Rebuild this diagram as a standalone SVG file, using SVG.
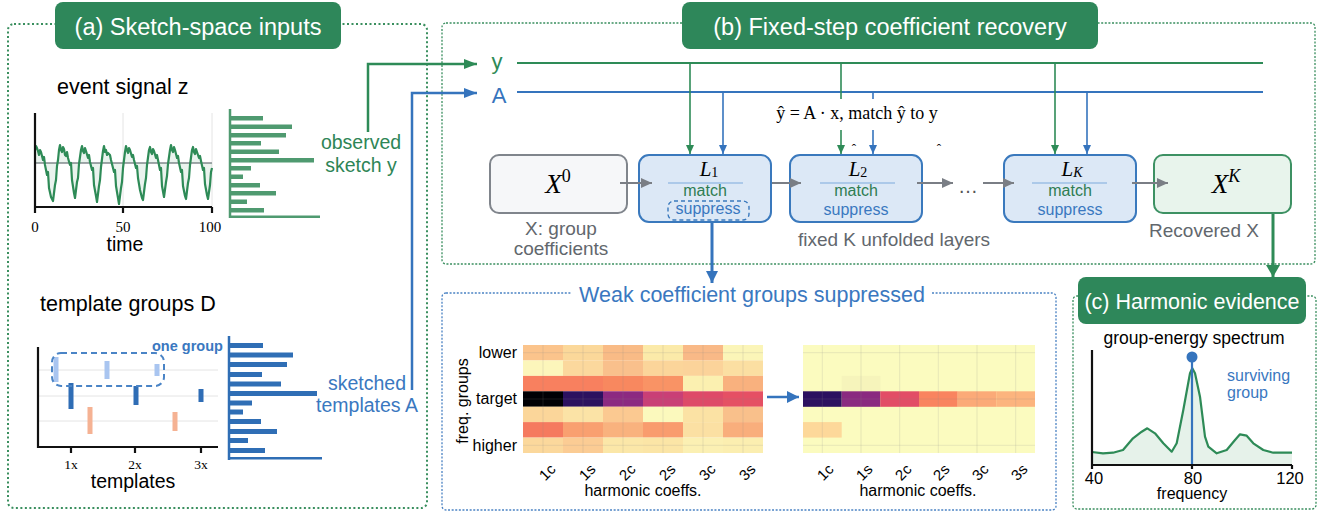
<svg xmlns="http://www.w3.org/2000/svg" width="1319" height="514" viewBox="0 0 1319 514">
<style>
  text{font-family:"Liberation Sans",Arial,"DejaVu Sans",sans-serif;}
  .serif{font-family:"Liberation Serif","Times New Roman",serif;}
  .pill{fill:#2e875a;}
  .pilltxt{fill:#fff;text-anchor:middle;}
  .frameA{fill:none;stroke:#3a8f5f;stroke-width:2;stroke-dasharray:2 2.5;}
  .frameG{fill:none;stroke:#3a8f5f;stroke-width:1.3;stroke-dasharray:2 1.6;}
  .frameB{fill:none;stroke:#4a82c3;stroke-width:1.3;stroke-dasharray:2 1.6;}
  .head{font-size:21.5px;}
  .axis{stroke:#111;stroke-width:2.2;fill:none;}
  .grid{stroke:#e4e4e4;stroke-width:1;}
  .tick{text-anchor:middle;}
  .gray{fill:#62676d;font-size:19px;text-anchor:middle;}
  .lbox{fill:#dce8f6;stroke:#3a79bd;stroke-width:2;}
  .sep{stroke:#9cbfe4;stroke-width:1.5;}
  .match{fill:#2e7d52;font-size:16px;text-anchor:middle;}
  .supp{fill:#3a78c0;font-size:16px;text-anchor:middle;}
  .green{fill:#2e8556;}
  .blue{fill:#3a78c0;}
  .lname{font-size:21px;font-style:italic;text-anchor:middle;}
  .gl{stroke:#2e8b57;fill:none;}
  .bl{stroke:#3574bd;fill:none;}
  .chain{stroke:#7a7e85;stroke-width:2;fill:none;marker-end:url(#ahK);}
  .hbarG{fill:#4f9a70;}
  .hbarB{fill:#2f6eb5;}
  .hgrid{stroke:#8a8a8a;stroke-opacity:.18;stroke-width:1;}
  .xt{font-size:15px;text-anchor:middle;dominant-baseline:central;}
  .rowl{font-size:16px;text-anchor:end;}
</style>
<defs>
  <marker id="ahGbig" viewBox="0 0 13 10" refX="13" refY="5" markerWidth="13" markerHeight="10" markerUnits="userSpaceOnUse" orient="auto"><path d="M0,0L13,5L0,10z" fill="#2e8b57"/></marker>
  <marker id="ahBbig" viewBox="0 0 13 10" refX="13" refY="5" markerWidth="13" markerHeight="10" markerUnits="userSpaceOnUse" orient="auto"><path d="M0,0L13,5L0,10z" fill="#3574bd"/></marker>
  <marker id="ahG" viewBox="0 0 9 8" refX="9" refY="4" markerWidth="9" markerHeight="8" markerUnits="userSpaceOnUse" orient="auto"><path d="M0,0L9,4L0,8z" fill="#2e8b57"/></marker>
  <marker id="ahB" viewBox="0 0 9 8" refX="9" refY="4" markerWidth="9" markerHeight="8" markerUnits="userSpaceOnUse" orient="auto"><path d="M0,0L9,4L0,8z" fill="#3574bd"/></marker>
  <marker id="ahK" viewBox="0 0 11 10" refX="11" refY="5" markerWidth="11" markerHeight="10" markerUnits="userSpaceOnUse" orient="auto"><path d="M0,0L11,5L0,10z" fill="#7a7e85"/></marker>
  <marker id="ahBmid" viewBox="0 0 12 12" refX="12" refY="6" markerWidth="12" markerHeight="12" markerUnits="userSpaceOnUse" orient="auto"><path d="M0,0L12,6L0,12z" fill="#3574bd"/></marker>
  <marker id="ahGmid" viewBox="0 0 12 14" refX="12" refY="7" markerWidth="12" markerHeight="14" markerUnits="userSpaceOnUse" orient="auto"><path d="M0,0L12,7L0,14z" fill="#2e8b57"/></marker>
</defs>
<rect width="1319" height="514" fill="#fff"/>

<!-- panel frames -->
<rect class="frameA" x="8" y="24" width="419" height="484" rx="6"/>
<rect class="frameG" x="442" y="23" width="873" height="241" rx="4"/>
<rect class="frameB" x="442" y="293" width="614" height="217" rx="4"/>
<rect class="frameG" x="1073" y="296" width="243" height="213" rx="4"/>

<!-- panel titles -->
<g id="title-a"><rect class="pill" x="55" y="2" width="286" height="47" rx="8"/><text class="pilltxt" x="198" y="35" style="font-size:23.5px">(a) Sketch-space inputs</text></g>
<g id="title-b"><rect class="pill" x="682" y="2" width="416" height="47" rx="8"/><text class="pilltxt" x="890" y="35" style="font-size:23.5px">(b) Fixed-step coefficient recovery</text></g>

<!-- (a) event signal -->
<g id="event-signal">
  <text class="head" x="57" y="94">event signal z</text>
  <line class="grid" x1="123" y1="113" x2="123" y2="207"/>
  <line class="grid" x1="212" y1="113" x2="212" y2="207"/>
  <line x1="35" y1="163" x2="212" y2="163" stroke="#a3a7ab" stroke-width="1.8"/>
  <path d="M35,150 L37,148 L39,155 L41,152 L43,160 L45,165 L47,175 L49,188 L51,197 L53,201 L55,185 L57,166 L59,150 L60,145 L62,152 L64,149 L66,156 L68,158 L70,165 L72,180 L74,193 L75,198 L77,182 L79,164 L81,150 L82,146 L84,153 L86,151 L88,158 L90,162 L92,170 L94,185 L96,196 L97,202 L99,186 L101,167 L103,151 L104,146 L106,150 L108,153 L110,155 L112,164 L114,172 L116,186 L118,198 L119,204 L121,188 L123,168 L125,152 L126,146 L128,153 L130,150 L132,157 L134,160 L136,168 L138,178 L140,190 L142,198 L143,200 L145,184 L147,165 L149,150 L150,147 L152,154 L154,151 L156,158 L158,160 L160,170 L162,186 L164,197 L166,182 L168,164 L170,150 L171,145 L173,152 L175,150 L177,158 L179,163 L181,172 L183,186 L185,196 L186,199 L188,183 L190,165 L192,150 L193,147 L195,154 L197,152 L199,158 L201,161 L203,170 L205,184 L207,195 L208,199 L210,185 L212,168 L212,163 L35,163 Z" fill="#2e8b57" fill-opacity=".1"/>
  <path d="M35,150 L36,146 L37,148 L38,151 L39,155 L40,150 L41,152 L43,160 L44,157 L45,165 L47,175 L48,172 L49,188 L51,197 L53,201 L55,185 L56,180 L57,166 L58,160 L59,150 L60,145 L61,150 L62,152 L63,147 L64,149 L65,155 L66,156 L67,152 L68,158 L70,165 L71,163 L72,180 L74,193 L75,198 L77,182 L78,178 L79,164 L81,150 L82,146 L83,151 L84,153 L85,148 L86,151 L88,158 L89,155 L90,162 L92,170 L93,168 L94,185 L96,196 L97,202 L99,186 L100,180 L101,167 L103,151 L104,146 L105,152 L106,150 L107,155 L108,153 L110,155 L111,160 L112,164 L114,172 L115,170 L116,186 L118,198 L119,204 L121,188 L122,182 L123,168 L125,152 L126,146 L127,150 L128,153 L129,148 L130,150 L132,157 L133,155 L134,160 L136,168 L137,166 L138,178 L140,190 L142,198 L143,200 L145,184 L146,178 L147,165 L149,150 L150,147 L151,152 L152,154 L153,149 L154,151 L156,158 L157,155 L158,160 L160,170 L161,168 L162,186 L164,197 L166,182 L167,176 L168,164 L170,150 L171,145 L172,150 L173,152 L174,147 L175,150 L177,158 L178,156 L179,163 L181,172 L182,170 L183,186 L185,196 L186,199 L188,183 L189,178 L190,165 L192,150 L193,147 L194,152 L195,154 L196,149 L197,152 L199,158 L200,156 L201,161 L203,170 L204,168 L205,184 L207,195 L208,199 L210,185 L211,172 L212,168" fill="none" stroke="#2e8b57" stroke-width="2.2" stroke-linejoin="round"/>
  <path class="axis" d="M35,113 V207 H212 M35,207 v6 M123,207 v6 M212,207 v6"/>
  <text class="tick serif" x="35" y="232" style="font-size:15px">0</text>
  <text class="tick serif" x="123" y="232" style="font-size:15px">50</text>
  <text class="tick serif" x="210" y="232" style="font-size:15px">100</text>
  <text x="125" y="251" font-size="19.5" text-anchor="middle">time</text>
</g>

<!-- (a) observed sketch histogram -->
<g id="sketch-y">
  <line x1="230" y1="109" x2="230" y2="218" stroke="#4f9a70" stroke-width="2.5"/>
  <rect class="hbarG" x="231" y="116" width="32" height="4.5"/>
  <rect class="hbarG" x="231" y="124.5" width="61" height="4.5"/>
  <rect class="hbarG" x="231" y="133" width="55" height="4.5"/>
  <rect class="hbarG" x="231" y="141" width="30" height="4.5"/>
  <rect class="hbarG" x="231" y="149.5" width="48" height="4.5"/>
  <rect class="hbarG" x="231" y="158" width="83" height="4.5"/>
  <rect class="hbarG" x="231" y="166" width="20" height="4.5"/>
  <rect class="hbarG" x="231" y="174.5" width="12" height="4.5"/>
  <rect class="hbarG" x="231" y="183" width="29" height="4.5"/>
  <rect class="hbarG" x="231" y="191" width="45" height="4.5"/>
  <rect class="hbarG" x="231" y="199.5" width="16" height="4.5"/>
  <rect class="hbarG" x="231" y="208" width="33" height="4.5"/>
  <rect class="hbarG" x="231" y="215.5" width="89" height="2.5"/>
  <text class="green" x="361" y="149" font-size="19.5" text-anchor="middle">observed</text>
  <text class="green" x="361" y="172" font-size="19.5" text-anchor="middle">sketch y</text>
</g>

<!-- (a) template groups -->
<g id="template-groups">
  <text class="head" x="40" y="311">template groups D</text>
  <line class="grid" x1="38" y1="370" x2="218" y2="370"/>
  <line class="grid" x1="38" y1="396" x2="218" y2="396"/>
  <line class="grid" x1="38" y1="421" x2="218" y2="421"/>
  <rect x="53.5" y="357" width="5" height="25" fill="#a9c5f0"/>
  <rect x="104.5" y="361" width="5" height="18" fill="#a9c5f0"/>
  <rect x="154.5" y="364" width="5" height="12" fill="#a9c5f0"/>
  <rect x="68.5" y="383" width="5" height="26" fill="#2f6db5"/>
  <rect x="133.5" y="386" width="5" height="19" fill="#2f6db5"/>
  <rect x="198.5" y="389" width="5" height="13" fill="#2f6db5"/>
  <rect x="87.5" y="407" width="5" height="27" fill="#f5b293"/>
  <rect x="172.5" y="412" width="5" height="19" fill="#f5b293"/>
  <rect x="52" y="353" width="112" height="33" rx="9" fill="none" stroke="#4a84c6" stroke-width="2" stroke-dasharray="6 4"/>
  <text class="blue" x="152" y="351" font-size="14.5" font-weight="bold">one group</text>
  <path class="axis" d="M38,347 V447 H218 M71,447 v6 M135,447 v6 M201,447 v6"/>
  <text class="tick serif" x="71" y="469" style="font-size:13.5px">1x</text>
  <text class="tick serif" x="135" y="469" style="font-size:13.5px">2x</text>
  <text class="tick serif" x="201" y="469" style="font-size:13.5px">3x</text>
  <text x="133" y="488" font-size="19.5" text-anchor="middle">templates</text>
</g>

<!-- (a) sketched templates histogram -->
<g id="sketch-A">
  <line x1="229" y1="336" x2="229" y2="460" stroke="#2f6eb5" stroke-width="2.5"/>
  <rect class="hbarB" x="230" y="343" width="33" height="5"/>
  <rect class="hbarB" x="230" y="352.5" width="63" height="5"/>
  <rect class="hbarB" x="230" y="362" width="57" height="5"/>
  <rect class="hbarB" x="230" y="372" width="32" height="5"/>
  <rect class="hbarB" x="230" y="381.5" width="51" height="5"/>
  <rect class="hbarB" x="230" y="391" width="87" height="5"/>
  <rect class="hbarB" x="230" y="400.5" width="22" height="5"/>
  <rect class="hbarB" x="230" y="409.5" width="13" height="5"/>
  <rect class="hbarB" x="230" y="419" width="31" height="5"/>
  <rect class="hbarB" x="230" y="429" width="47" height="5"/>
  <rect class="hbarB" x="230" y="438" width="18" height="5"/>
  <rect class="hbarB" x="230" y="448" width="35" height="5"/>
  <rect class="hbarB" x="230" y="457" width="92" height="2.5"/>
  <text class="blue" x="367" y="390" font-size="19.5" text-anchor="middle">sketched</text>
  <text class="blue" x="367" y="412" font-size="19.5" text-anchor="middle">templates A</text>
</g>

<!-- (b) connectors -->
<g id="connectors">
  <path class="gl" d="M368,132 V64 H477" stroke-width="2.5" marker-end="url(#ahGbig)"/>
  <path class="bl" d="M412,390 V93 H477" stroke-width="2.5" marker-end="url(#ahBbig)"/>
  <line class="gl" x1="517" y1="63" x2="1263" y2="63" stroke-width="2"/>
  <line class="bl" x1="517" y1="92" x2="1263" y2="92" stroke-width="2"/>
  <path class="gl" d="M690,63 V154" stroke-width="1.6" marker-end="url(#ahG)"/>
  <path class="bl" d="M723,92 V154" stroke-width="1.6" marker-end="url(#ahB)"/>
  <path class="gl" d="M841,63 V154" stroke-width="1.6" marker-end="url(#ahG)"/>
  <path class="bl" d="M873,92 V154" stroke-width="1.6" marker-end="url(#ahB)"/>
  <path class="gl" d="M1055,63 V154" stroke-width="1.6" marker-end="url(#ahG)"/>
  <path class="bl" d="M1087,92 V154" stroke-width="1.6" marker-end="url(#ahB)"/>
  <path class="bl" d="M712,222 V283" stroke-width="3" marker-end="url(#ahBmid)"/>
  <path class="gl" d="M1273,213 V277" stroke-width="3" marker-end="url(#ahGmid)"/>
  <path class="bl" d="M767,397 H799" stroke-width="2.5" marker-end="url(#ahBmid)"/>
</g>

<!-- bus labels and formula -->
<text x="497" y="69" font-size="22" text-anchor="middle" fill="#2e8b57">y</text>
<text x="499" y="103" font-size="22" text-anchor="middle" fill="#3574bd">A</text>
<rect x="772" y="99" width="171" height="31" fill="#fff"/>
<text class="serif" x="857" y="119" font-size="18" text-anchor="middle">ŷ = A · x, match ŷ to y</text>
<text class="serif" x="854" y="153" font-size="13" text-anchor="middle">ˆ</text>
<text class="serif" x="939" y="153" font-size="13" text-anchor="middle">ˆ</text>

<!-- (b) nodes -->
<g id="node-x0">
  <rect x="490" y="155" width="137" height="58" rx="9" fill="#f6f7f9" stroke="#80858c" stroke-width="2"/>
  <text class="serif" x="558" y="193" font-size="27" font-style="italic" text-anchor="middle">X<tspan font-size="18" font-style="normal" dy="-11">0</tspan></text>
  <text class="gray" x="561" y="235">X: group</text>
  <text class="gray" x="561" y="255">coefficients</text>
</g>
<g id="node-l1">
  <rect class="lbox" x="639" y="155" width="132" height="67" rx="10"/>
  <text class="serif lname" x="709" y="176">L<tspan font-size="14" font-style="normal" dy="1">1</tspan></text>
  <line class="sep" x1="668" y1="183" x2="743" y2="183"/>
  <text class="match" x="705" y="196">match</text>
  <rect x="668" y="201" width="81" height="19" rx="6" fill="none" stroke="#3a79bd" stroke-width="1.4" stroke-dasharray="4 3"/>
  <text class="supp" x="708" y="214">suppress</text>
</g>
<g id="node-l2">
  <rect class="lbox" x="790" y="155" width="132" height="67" rx="10"/>
  <text class="serif lname" x="858" y="176">L<tspan font-size="14" font-style="normal" dy="1">2</tspan></text>
  <line class="sep" x1="820" y1="183" x2="895" y2="183"/>
  <text class="match" x="856" y="196">match</text>
  <text class="supp" x="856" y="215">suppress</text>
</g>
<text id="node-dots" x="968" y="193" font-size="20" text-anchor="middle" fill="#555">…</text>
<g id="node-lk">
  <rect class="lbox" x="1004" y="155" width="132" height="67" rx="10"/>
  <text class="serif lname" x="1072" y="176">L<tspan font-size="14" dy="1">K</tspan></text>
  <line class="sep" x1="1032" y1="183" x2="1107" y2="183"/>
  <text class="match" x="1070" y="196">match</text>
  <text class="supp" x="1070" y="215">suppress</text>
</g>
<g id="node-xk">
  <rect x="1154" y="155" width="137" height="58" rx="9" fill="#e8f4ec" stroke="#3d9163" stroke-width="2"/>
  <text class="serif" x="1226" y="193" font-size="27" font-style="italic" text-anchor="middle">X<tspan font-size="18" dy="-11">K</tspan></text>
  <text class="gray" x="1204" y="237">Recovered X</text>
</g>
<text class="gray" x="894" y="246">fixed K unfolded layers</text>

<!-- chain arrows -->
<g id="chain">
  <path class="chain" d="M620,183 H652"/>
  <path class="chain" d="M772,183 H801"/>
  <path class="chain" d="M917,183 H953"/>
  <path class="chain" d="M983,183 H1014"/>
  <path class="chain" d="M1132,183 H1168"/>
</g>

<!-- suppression heatmaps -->
<g id="suppression">
  <rect x="572" y="285" width="359" height="18" fill="#fff"/>
  <text class="blue" x="752" y="302" font-size="21.5" text-anchor="middle">Weak coefficient groups suppressed</text>

  <g id="heatmap-before">
    <!-- row 0 -->
    <rect x="523" y="345" width="40" height="15.5" fill="#fbc48c"/><rect x="563" y="345" width="40" height="15.5" fill="#fbd89a"/><rect x="603" y="345" width="40" height="15.5" fill="#f9bb86"/><rect x="643" y="345" width="40" height="15.5" fill="#fbeaa9"/><rect x="683" y="345" width="40" height="15.5" fill="#f9b987"/><rect x="723" y="345" width="40" height="15.5" fill="#fbf5b8"/>
    <!-- row 1 -->
    <rect x="523" y="360.4" width="40" height="15.5" fill="#fcf6bb"/><rect x="563" y="360.4" width="40" height="15.5" fill="#fbd89d"/><rect x="603" y="360.4" width="40" height="15.5" fill="#f9c08c"/><rect x="643" y="360.4" width="40" height="15.5" fill="#fbd59a"/><rect x="683" y="360.4" width="40" height="15.5" fill="#fbd39a"/><rect x="723" y="360.4" width="40" height="15.5" fill="#fbdfa2"/>
    <!-- row 2 -->
    <rect x="523" y="375.9" width="40" height="15.5" fill="#f8805f"/><rect x="563" y="375.9" width="40" height="15.5" fill="#f8805f"/><rect x="603" y="375.9" width="40" height="15.5" fill="#f8885f"/><rect x="643" y="375.9" width="40" height="15.5" fill="#f99365"/><rect x="683" y="375.9" width="40" height="15.5" fill="#fbf0b0"/><rect x="723" y="375.9" width="40" height="15.5" fill="#f9b17e"/>
    <!-- row 3: target -->
    <rect x="523" y="391.3" width="40" height="15.5" fill="#000004"/><rect x="563" y="391.3" width="40" height="15.5" fill="#2c115f"/><rect x="603" y="391.3" width="40" height="15.5" fill="#8c2981"/><rect x="643" y="391.3" width="40" height="15.5" fill="#c93f76"/><rect x="683" y="391.3" width="40" height="15.5" fill="#de4a68"/><rect x="723" y="391.3" width="40" height="15.5" fill="#e55064"/>
    <!-- row 4 -->
    <rect x="523" y="406.7" width="40" height="15.5" fill="#fbd69a"/><rect x="563" y="406.7" width="40" height="15.5" fill="#fbe3a6"/><rect x="603" y="406.7" width="40" height="15.5" fill="#fbc991"/><rect x="643" y="406.7" width="40" height="15.5" fill="#fbf9bd"/><rect x="683" y="406.7" width="40" height="15.5" fill="#fbe2a4"/><rect x="723" y="406.7" width="40" height="15.5" fill="#f9c08b"/>
    <!-- row 5 -->
    <rect x="523" y="422.1" width="40" height="15.5" fill="#f57a5f"/><rect x="563" y="422.1" width="40" height="15.5" fill="#f9a070"/><rect x="603" y="422.1" width="40" height="15.5" fill="#f9b27e"/><rect x="643" y="422.1" width="40" height="15.5" fill="#f99c6e"/><rect x="683" y="422.1" width="40" height="15.5" fill="#fbe0a3"/><rect x="723" y="422.1" width="40" height="15.5" fill="#f9ae7c"/>
    <!-- row 6 -->
    <rect x="523" y="437.6" width="40" height="15.4" fill="#fbd89c"/><rect x="563" y="437.6" width="40" height="15.4" fill="#fbcc94"/><rect x="603" y="437.6" width="40" height="15.4" fill="#fbe7a8"/><rect x="643" y="437.6" width="40" height="15.4" fill="#fbe5a6"/><rect x="683" y="437.6" width="40" height="15.4" fill="#fbf0b3"/><rect x="723" y="437.6" width="40" height="15.4" fill="#fbeeb0"/>
    <path class="hgrid" d="M543,345V453M583,345V453M623,345V453M663,345V453M703,345V453M743,345V453M523,352.7H763M523,399H763M523,445.3H763"/>
    <text class="rowl" x="517" y="358">lower</text>
    <text class="rowl" x="517" y="404">target</text>
    <text class="rowl" x="517" y="451">higher</text>
    <text font-size="16" text-anchor="middle" transform="translate(468,401) rotate(-90)">freq. groups</text>
    <text class="xt" transform="translate(547,472) rotate(-45)">1c</text>
    <text class="xt" transform="translate(587,472) rotate(-45)">1s</text>
    <text class="xt" transform="translate(627,472) rotate(-45)">2c</text>
    <text class="xt" transform="translate(667,472) rotate(-45)">2s</text>
    <text class="xt" transform="translate(707,472) rotate(-45)">3c</text>
    <text class="xt" transform="translate(747,472) rotate(-45)">3s</text>
    <text x="643" y="496" font-size="16" text-anchor="middle">harmonic coeffs.</text>
  </g>

  <g id="heatmap-after">
    <rect x="803" y="345" width="232" height="108" fill="#fbfbbf"/>
    <rect x="841.7" y="375.9" width="38.7" height="15.5" fill="#f6f4bb"/>
    <rect x="803" y="391.3" width="38.7" height="15.5" fill="#2c1160"/><rect x="841.7" y="391.3" width="38.7" height="15.5" fill="#8a2a80"/><rect x="880.3" y="391.3" width="38.7" height="15.5" fill="#e24d66"/><rect x="919" y="391.3" width="38.7" height="15.5" fill="#f9845f"/><rect x="957.7" y="391.3" width="38.7" height="15.5" fill="#fbaa78"/><rect x="996.3" y="391.3" width="38.7" height="15.5" fill="#fcb47e"/>
    <rect x="803" y="422.1" width="38.7" height="15.5" fill="#fdd89a"/>
    <path class="hgrid" d="M822.3,345V453M861,345V453M899.7,345V453M938.3,345V453M977,345V453M1015.7,345V453M803,352.7H1035M803,399H1035M803,445.3H1035"/>
    <text class="xt" transform="translate(825,472) rotate(-45)">1c</text>
    <text class="xt" transform="translate(864,472) rotate(-45)">1s</text>
    <text class="xt" transform="translate(903,472) rotate(-45)">2c</text>
    <text class="xt" transform="translate(941,472) rotate(-45)">2s</text>
    <text class="xt" transform="translate(980,472) rotate(-45)">3c</text>
    <text class="xt" transform="translate(1019,472) rotate(-45)">3s</text>
    <text x="918" y="496" font-size="16" text-anchor="middle">harmonic coeffs.</text>
  </g>
</g>

<!-- (c) harmonic evidence -->
<g id="harmonic-evidence">
  <rect class="pill" x="1078" y="277" width="228" height="47" rx="8"/>
  <text class="pilltxt" x="1192" y="309" style="font-size:21.5px">(c) Harmonic evidence</text>
  <text x="1194" y="344" font-size="17.5" text-anchor="middle">group-energy spectrum</text>
  <path d="M1092,452 L1103,453.3 L1113,452.7 L1123,450 L1133,438.3 L1141.7,431.7 L1147.3,428.3 L1155,433.3 L1163.3,443.3 L1171.7,451.7 L1176.7,443.3 L1183.3,410 L1190,373.3 L1192.3,368.3 L1195,373.3 L1200,396.7 L1205,436.7 L1208.3,446.7 L1216.7,453.3 L1226.7,450 L1235,440 L1240,434.3 L1246.7,435.7 L1253.3,443.3 L1263.3,450 L1273.3,452.7 L1292,452.7 L1292,465 L1092,465 Z" fill="#e6f2ea"/>
  <path d="M1092,452 L1103,453.3 L1113,452.7 L1123,450 L1133,438.3 L1141.7,431.7 L1147.3,428.3 L1155,433.3 L1163.3,443.3 L1171.7,451.7 L1176.7,443.3 L1183.3,410 L1190,373.3 L1192.3,368.3 L1195,373.3 L1200,396.7 L1205,436.7 L1208.3,446.7 L1216.7,453.3 L1226.7,450 L1235,440 L1240,434.3 L1246.7,435.7 L1253.3,443.3 L1263.3,450 L1273.3,452.7 L1292,452.7" fill="none" stroke="#2e8b57" stroke-width="2.2" stroke-linejoin="round"/>
  <line x1="1192" y1="465" x2="1192" y2="357" stroke="#3574bd" stroke-width="2.2"/>
  <circle cx="1192" cy="357" r="5.5" fill="#3574bd"/>
  <path class="axis" d="M1092,350 V465 H1292 M1092,465 v4 M1192,465 v4 M1292,465 v4"/>
  <text x="1094" y="484" font-size="16.5" text-anchor="middle">40</text>
  <text x="1193" y="484" font-size="16.5" text-anchor="middle">80</text>
  <text x="1290" y="484" font-size="16.5" text-anchor="middle">120</text>
  <text x="1192" y="499" font-size="16" text-anchor="middle">frequency</text>
  <text class="blue" x="1227" y="381" font-size="16">surviving</text>
  <text class="blue" x="1227" y="398" font-size="16">group</text>
</g>
</svg>
